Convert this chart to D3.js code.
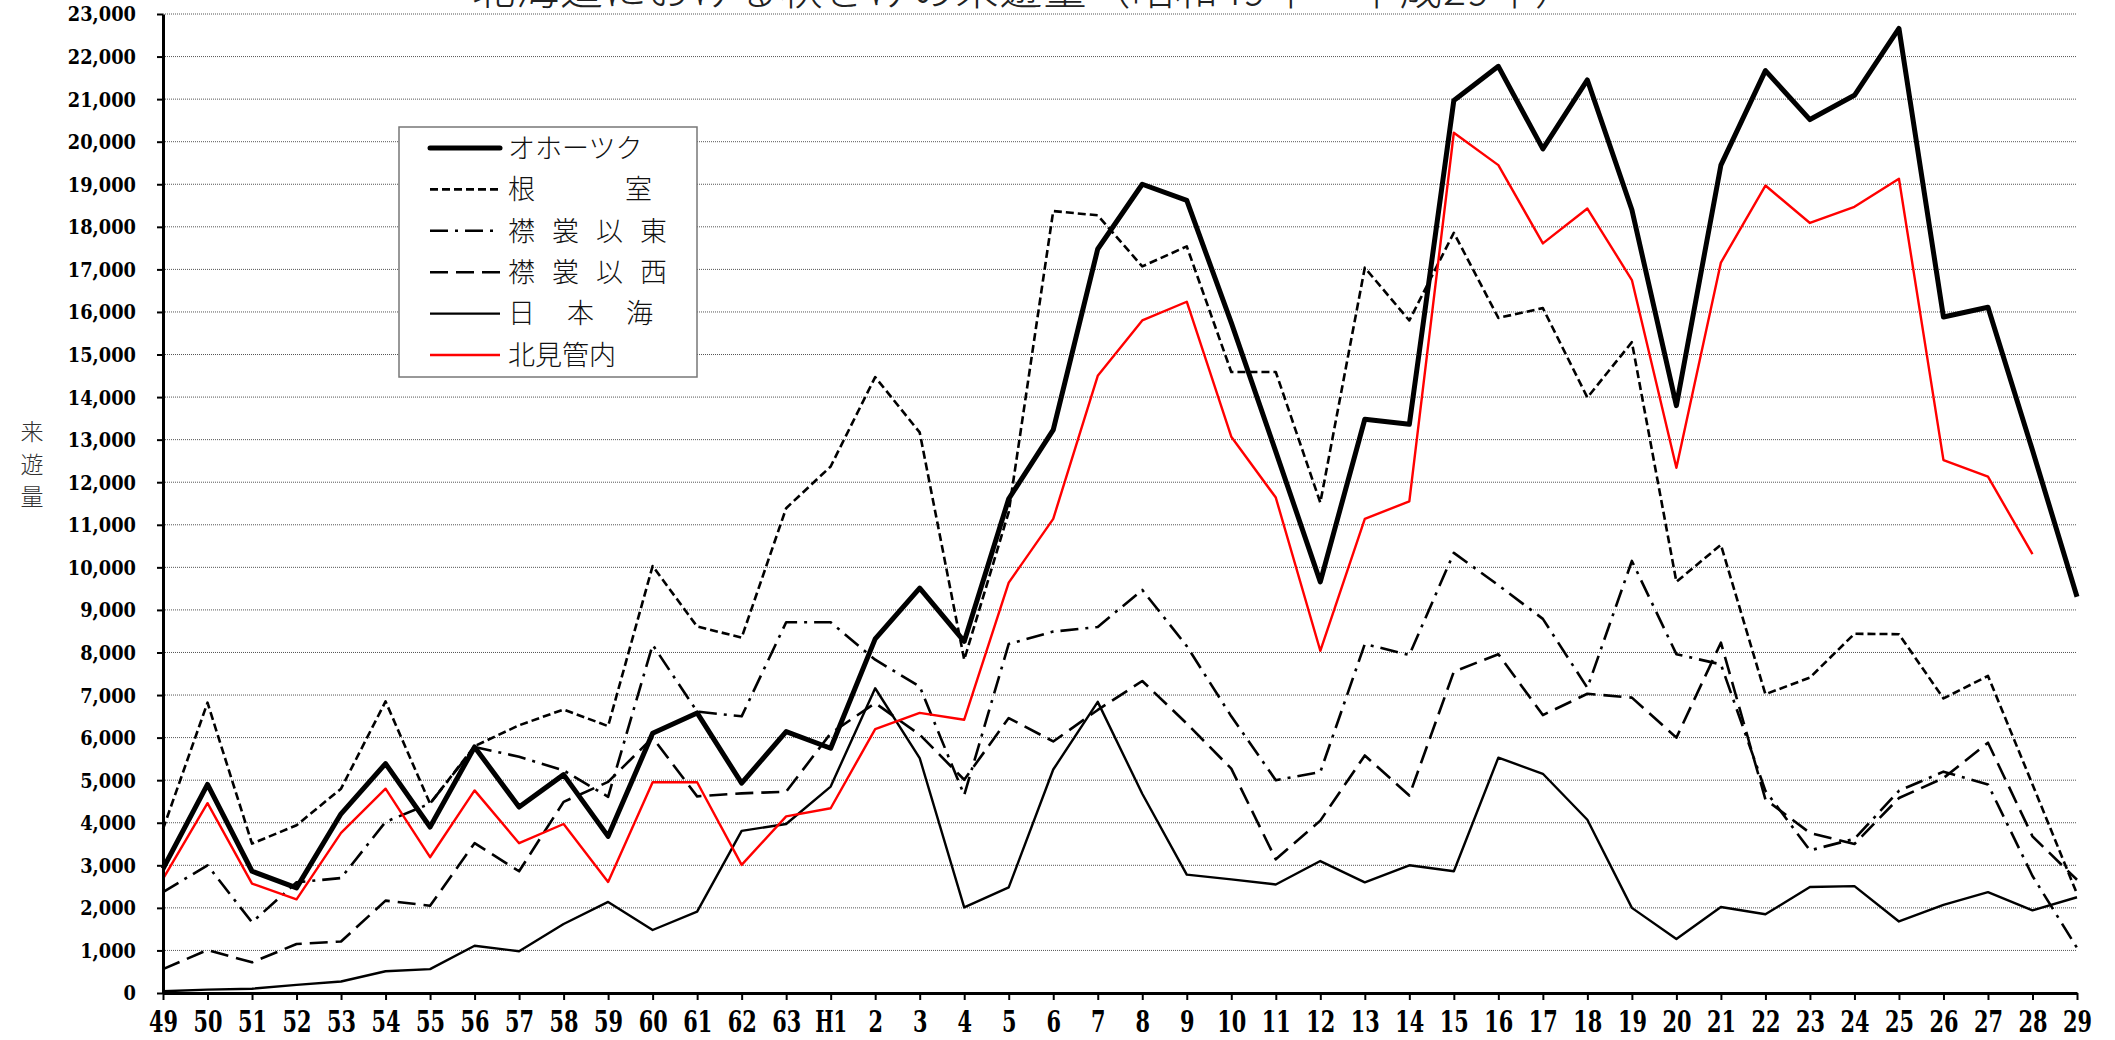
<!DOCTYPE html>
<html>
<head>
<meta charset="utf-8">
<script src="https://cdn.jsdelivr.net/npm/d3@7"></script>
<style>
  html, body { margin: 0; padding: 0; background: #fff; }
  svg { display: block; }
</style>
</head>
<body>
<svg id="chart" width="2115" height="1040"></svg>
<script>
// Fiscal years: Showa 49–63, then Heisei 1–29
const years = ["49","50","51","52","53","54","55","56","57","58","59","60","61","62","63",
  "H1","2","3","4","5","6","7","8","9","10","11","12","13","14","15","16","17","18","19",
  "20","21","22","23","24","25","26","27","28","29"];

const seriesNames = ["オホーツク", "根室", "襟裳以東", "襟裳以西", "日本海", "北見管内"];

const okhotsk = [2920, 4900, 2860, 2470, 4210, 5390, 3900, 5780, 4370, 5130, 3680, 6100, 6580, 4930, 6140,
  5750, 8320, 9510, 8260, 11610, 13230, 17480, 19000, 18620, 15750, 12720, 9660, 13480, 13360, 20970,
  21770, 19830, 21450, 18400, 13800, 19450, 21670, 20520, 21090, 22660, 15880, 16110, 12750, 9310];

const nemuro = [3850, 6820, 3510, 3940, 4800, 6850, 4450, 5800, 6290, 6660, 6270, 10030, 8610, 8350, 11390,
  12370, 14470, 13170, 7830, 11300, 18370, 18270, 17070, 17540, 14590, 14590, 11520, 17040, 15800, 17860,
  15860, 16090, 13990, 15290, 9660, 10530, 7020, 7410, 8440, 8430, 6920, 7450, 4900, 2330];

const erimoEast = [2370, 3000, 1660, 2600, 2700, 4020, 4450, 5780, 5550, 5230, 4610, 8180, 6610, 6500, 8710,
  8710, 7830, 7200, 4650, 8200, 8490, 8600, 9470, 8150, 6500, 5000, 5190, 8200, 7940, 10340,
  9580, 8790, 7170, 10150, 7960, 7720, 4750, 3350, 3620, 4750, 5200, 4900, 2750, 1060];

const erimoWest = [560, 1010, 720, 1150, 1210, 2170, 2050, 3520, 2860, 4490, 4960, 6000, 4620, 4690, 4730,
  6100, 6810, 6070, 5010, 6460, 5910, 6650, 7330, 6330, 5270, 3140, 4050, 5580, 4640, 7550,
  7960, 6530, 7030, 6940, 6000, 8230, 4550, 3760, 3500, 4580, 5050, 5880, 3680, 2660];

const japanSea = [40, 80, 100, 190, 270, 510, 560, 1110, 980, 1620, 2140, 1480, 1910, 3810, 3970,
  4850, 7160, 5520, 2010, 2480, 5250, 6840, 4680, 2780, 2670, 2550, 3100, 2600, 3000, 2860,
  5530, 5150, 4070, 2000, 1270, 2020, 1850, 2490, 2510, 1680, 2070, 2370, 1940, 2250];

// 北見管内 has no figure for the last year
const kitami = [2680, 4460, 2570, 2200, 3760, 4800, 3190, 4760, 3520, 3970, 2610, 4950, 4950, 3010, 4150,
  4340, 6200, 6580, 6420, 9640, 11140, 14500, 15800, 16240, 13070, 11640, 8040, 11140, 11550, 20210,
  19450, 17610, 18430, 16750, 12340, 17160, 18970, 18090, 18470, 19130, 12520, 12130, 10310, null];

const yTicks = d3.range(0, 23001, 1000);
const titleText = "北海道における秋さけの来遊量（昭和49年～平成29年）";
const yTitle = "来遊量";

const seriesValues = [okhotsk, nemuro, erimoEast, erimoWest, japanSea, kitami];

// line appearance per series (same order as seriesNames)
const styles = [
  { stroke: "#000",    width: 5,   dash: null,        legendWidth: null },
  { stroke: "#000",    width: 2.6, dash: "8,4",       legendWidth: 144 },
  { stroke: "#000",    width: 2.6, dash: "18,7,3,7",  legendWidth: 159 },
  { stroke: "#000",    width: 2.6, dash: "18,8",      legendWidth: 159 },
  { stroke: "#000",    width: 2.4, dash: null,        legendWidth: 145 },
  { stroke: "#ff0000", width: 2.4, dash: null,        legendWidth: null }
];

const svg = d3.select("#chart");
svg.append("rect").attr("width", 2115).attr("height", 1040).attr("fill", "#fff");

const plot = { left: 163, right: 2077, top: 14, bottom: 993 };

const x = d3.scalePoint().domain(years).range([plot.left, plot.right]).padding(0);
const y = d3.scaleLinear().domain([0, 23000]).range([plot.bottom, plot.top]);

// title (sits against the very top edge of the page)
svg.append("text")
  .attr("x", 472).attr("y", 5)
  .attr("font-family", "'Noto Sans CJK JP', sans-serif")
  .attr("font-weight", 300)
  .attr("font-size", 43)
  .attr("fill", "#222")
  .attr("textLength", 1106)
  .attr("lengthAdjust", "spacing")
  .text(titleText);

// dotted horizontal gridlines
svg.append("g").selectAll("line")
  .data(yTicks.filter(v => v > 0))
  .join("line")
  .attr("x1", plot.left).attr("x2", plot.right)
  .attr("y1", d => y(d)).attr("y2", d => y(d))
  .attr("stroke", "#555")
  .attr("stroke-width", 1)
  .attr("stroke-dasharray", "1,1");

// series lines
const lineGen = d3.line()
  .defined(d => d.v != null)
  .x(d => x(d.year))
  .y(d => y(d.v));

const linesG = svg.append("g");
seriesNames.forEach((name, i) => {
  const pts = years.map((yr, j) => ({ year: yr, v: seriesValues[i][j] }));
  linesG.append("path")
    .datum(pts)
    .attr("d", lineGen)
    .attr("fill", "none")
    .attr("stroke", styles[i].stroke)
    .attr("stroke-width", styles[i].width)
    .attr("stroke-linejoin", "round")
    .attr("stroke-dasharray", styles[i].dash);
});

// y axis
const fmt = d3.format(",");
const yAxisG = svg.append("g")
  .attr("transform", `translate(${plot.left},0)`)
  .call(d3.axisLeft(y).tickValues(yTicks).tickSize(6).tickSizeOuter(0).tickPadding(21).tickFormat(fmt));
yAxisG.select(".domain").attr("stroke", "#000").attr("stroke-width", 3);
yAxisG.selectAll(".tick line").attr("stroke", "#000").attr("stroke-width", 2);
yAxisG.selectAll(".tick text")
  .attr("fill", "#000")
  .attr("font-family", "'DejaVu Serif', serif")
  .attr("font-weight", "bold")
  .attr("font-size", 20.5)
  .attr("dy", "0.34em")
  .attr("lengthAdjust", "spacingAndGlyphs")
  .attr("textLength", d => {
    const s = fmt(d);
    const digits = s.replace(/,/g, "").length;
    const commas = s.length - digits;
    return digits * 12.4 + commas * 6.2;
  });

// x axis
const xAxisG = svg.append("g")
  .attr("transform", `translate(0,${plot.bottom})`)
  .call(d3.axisBottom(x).tickSize(7).tickSizeOuter(0));
xAxisG.select(".domain").attr("stroke", "#000").attr("stroke-width", 3);
xAxisG.selectAll(".tick line").attr("stroke", "#000").attr("stroke-width", 2);
xAxisG.selectAll(".tick text")
  .attr("fill", "#000")
  .attr("font-family", "'DejaVu Serif', serif")
  .attr("font-weight", "bold")
  .attr("font-size", 30)
  .attr("y", 39)
  .attr("dy", null)
  .attr("lengthAdjust", "spacingAndGlyphs")
  .attr("textLength", d => d === "H1" ? 32 : d.length * 14.5);

// vertical axis title
svg.append("g").selectAll("text")
  .data(Array.from(yTitle))
  .join("text")
  .attr("x", 32)
  .attr("y", (d, i) => 432 + i * 32.5)
  .attr("dy", "0.36em")
  .attr("text-anchor", "middle")
  .attr("font-family", "'Noto Sans CJK JP', sans-serif")
  .attr("font-weight", 300)
  .attr("font-size", 23)
  .attr("fill", "#333")
  .text(d => d);

// legend
const legend = svg.append("g");
legend.append("rect")
  .attr("x", 399).attr("y", 127)
  .attr("width", 298).attr("height", 250)
  .attr("fill", "#fff")
  .attr("stroke", "#777")
  .attr("stroke-width", 1.5);

seriesNames.forEach((name, i) => {
  const cy = 148 + i * 41.4;
  legend.append("line")
    .attr("x1", 430).attr("x2", 500)
    .attr("y1", cy).attr("y2", cy)
    .attr("stroke", styles[i].stroke)
    .attr("stroke-width", styles[i].width)
    .attr("stroke-linecap", i === 0 ? "round" : "butt")
    .attr("stroke-dasharray", styles[i].dash);
  const t = legend.append("text")
    .attr("x", 508).attr("y", cy)
    .attr("dy", "0.36em")
    .attr("font-family", "'Noto Sans CJK JP', sans-serif")
    .attr("font-weight", 300)
    .attr("font-size", 27)
    .attr("fill", "#111")
    .text(name);
  if (styles[i].legendWidth) {
    t.attr("textLength", styles[i].legendWidth).attr("lengthAdjust", "spacing");
  }
});
</script>
</body>
</html>
